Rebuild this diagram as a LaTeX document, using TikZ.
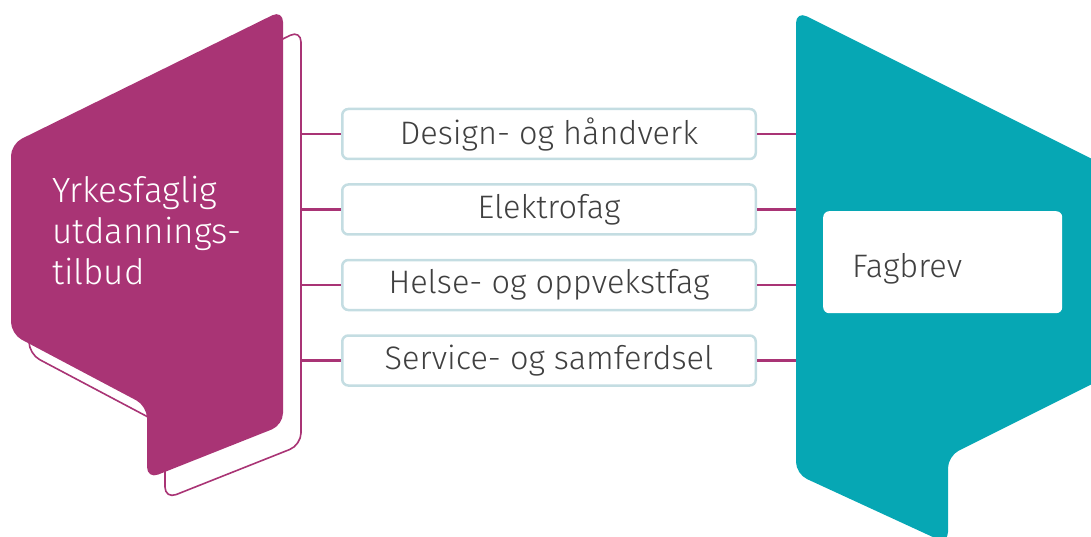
\documentclass[tikz,border=0pt]{standalone}
\usepackage{fontspec}
\setmainfont{Fira Sans}[UprightFont=* Light]
\usepackage{tikz}
\usetikzlibrary{positioning}

\definecolor{plum}{HTML}{A93475}
\definecolor{teal}{HTML}{06A7B4}
\definecolor{frame}{HTML}{C4DDE2}
\definecolor{ink}{HTML}{404040}

\begin{document}
\begin{tikzpicture}[
    x=1pt, y=-1pt, % 以像素為單位, y 向下
    node distance=23pt,
    % 定義樣式
    fag/.style={
        draw=frame,
        line width=2.5pt,
        rounded corners=6pt,
        fill=white,
        text=ink,
        font=\fontsize{32.5}{38}\selectfont,
        minimum width=413.5pt,
        minimum height=50pt,
        inner sep=0pt
    },
    link/.style={
        draw=plum,
        line width=2.5pt
    },
    result/.style={
        fill=white,
        rounded corners=6pt,
        text=ink,
        font=\fontsize{32.5}{38}\selectfont,
        minimum height=102pt,
        text width=181pt,
        text height=30pt,
        text depth=0pt,
        inner xsep=29pt,
        align=left
    }
]
    \useasboundingbox (0,0) rectangle (1091,537);
    \clip (0,0) rectangle (1091,537);

    % --- 1. Yrkesfaglig (Left) ---
    % 外框陰影, 偏移 (18,20)
    \draw[plum, line width=1.6pt, fill=white, rounded corners=12pt, shift={(18,20)}]
        (11,144) -- (283,10) -- (283,425) -- (147,479) -- (147,406) -- (11,334) -- cycle;
    \fill[plum, rounded corners=12pt]
        (11,144) -- (283,10) -- (283,425) -- (147,479) -- (147,406) -- (11,334) -- cycle;
    \coordinate (shadow) at (301,0);
    \node[anchor=north west, align=left, text=white, inner sep=0pt,
          font=\fontsize{35}{41}\selectfont] (yrke) at (52,176)
        {Yrkesfaglig\\utdannings-\\tilbud};

    % --- 2. Fagbrev (Right) ---
    \fill[teal, rounded corners=12pt]
        (796,11) -- (1130,178) -- (1130,365) -- (948,456) -- (948,544) -- (796,474) -- cycle;
    \coordinate (tealedge) at (796,0);
    \node[result, anchor=north west] (fagbrev) at (823,211) {Fagbrev};

    % --- 3. Programområder (Center) ---
    \node[fag] (design) at (549,134) {Design- og håndverk};
    \node[fag, below=of design] (elektro) {Elektrofag};
    \node[fag, below=of elektro] (helse) {Helse- og oppvekstfag};
    \node[fag, below=of helse] (service) {Service- og samferdsel};

    % --- 4. Lines (連線) ---
    \draw[link] (shadow |- design.west) -- (design.west);
    \draw[link] (shadow |- elektro.west) -- (elektro.west);
    \draw[link] (shadow |- helse.west) -- (helse.west);
    \draw[link] (shadow |- service.west) -- (service.west);

    \draw[link] (design.east) -- (tealedge |- design.east);
    \draw[link] (elektro.east) -- (tealedge |- elektro.east);
    \draw[link] (helse.east) -- (tealedge |- helse.east);
    \draw[link] (service.east) -- (tealedge |- service.east);

\end{tikzpicture}
\end{document}
